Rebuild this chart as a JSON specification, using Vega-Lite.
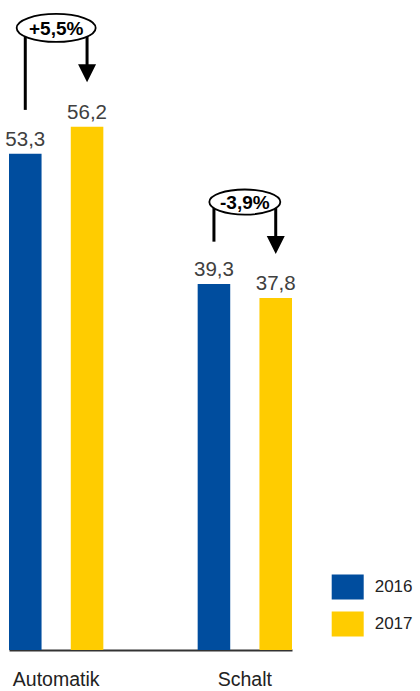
{
  "$schema": "https://vega.github.io/schema/vega-lite/v6.json",
  "width": 283,
  "height": 650,
  "autosize": {"type": "none"},
  "padding": {"left": 9, "top": 0, "right": 128, "bottom": 41},
  "background": "white",
  "config": {
    "view": {"stroke": null},
    "font": "Liberation Sans, Arial, sans-serif"
  },
  "datasets": {
    "bars": [
      {"category": "Automatik", "year": "2016", "value": 53.3, "label": "53,3"},
      {"category": "Automatik", "year": "2017", "value": 56.2, "label": "56,2"},
      {"category": "Schalt", "year": "2016", "value": 39.3, "label": "39,3"},
      {"category": "Schalt", "year": "2017", "value": 37.8, "label": "37,8"}
    ],
    "changes": [
      {"category": "Automatik", "change": "+5,5%", "fromYear": "2016", "toYear": "2017", "loop": 66.8, "fromEnd": 58.0, "arrowHead": 61.93},
      {"category": "Schalt", "change": "-3,9%", "fromYear": "2016", "toYear": "2017", "loop": 48.1, "fromEnd": 43.85, "arrowHead": 43.49}
    ]
  },
  "layer": [
    {
      "data": {"name": "bars"},
      "mark": {"type": "bar"},
      "encoding": {
        "x": {
          "field": "category", "type": "nominal",
          "scale": {"paddingInner": 0.5, "paddingOuter": 0},
          "axis": {
            "title": null, "labelAngle": 0, "ticks": false, "tickSize": 0,
            "domainColor": "#333333", "domainWidth": 2,
            "labelFontSize": 19.5, "labelColor": "#222222",
            "labelBaseline": "alphabetic", "labelPadding": 35
          }
        },
        "xOffset": {"field": "year", "type": "nominal", "scale": {"paddingInner": 0.473, "paddingOuter": 0}},
        "y": {"field": "value", "type": "quantitative", "scale": {"domain": [0, 69.8], "nice": false}, "axis": null},
        "color": {
          "field": "year", "type": "nominal",
          "scale": {"domain": ["2016", "2017"], "range": ["#004D9E", "#FFCC00"]},
          "legend": {
            "orient": "none", "legendX": 322.7, "legendY": 571, "title": null,
            "symbolType": "M-1,-0.78H1V0.78H-1Z", "symbolSize": 1024, "symbolStrokeWidth": 0,
            "labelFontSize": 17, "labelColor": "#222222", "labelOffset": 11,
            "rowPadding": 8, "padding": 0
          }
        }
      }
    },
    {
      "data": {"name": "bars"},
      "mark": {"type": "text", "baseline": "alphabetic", "dy": -8, "fontSize": 20.5, "color": "#404040"},
      "encoding": {
        "x": {"field": "category", "type": "nominal"},
        "xOffset": {"field": "year", "type": "nominal"},
        "y": {"field": "value", "type": "quantitative"},
        "text": {"field": "label"}
      }
    },
    {
      "data": {"name": "changes"},
      "mark": {"type": "rule", "strokeWidth": 3, "color": "black"},
      "encoding": {
        "x": {"field": "category", "type": "nominal"},
        "xOffset": {"field": "fromYear", "type": "nominal"},
        "y": {"field": "fromEnd", "type": "quantitative"},
        "y2": {"field": "loop"}
      }
    },
    {
      "data": {"name": "changes"},
      "mark": {"type": "rule", "strokeWidth": 3, "color": "black"},
      "encoding": {
        "x": {"field": "category", "type": "nominal"},
        "xOffset": {"field": "toYear", "type": "nominal"},
        "y": {"field": "loop", "type": "quantitative"},
        "y2": {"field": "arrowHead"}
      }
    },
    {
      "data": {"name": "changes"},
      "mark": {"type": "point", "shape": "M-1,-1L1,-1L0,1Z", "filled": true, "color": "black", "opacity": 1, "size": 324},
      "encoding": {
        "x": {"field": "category", "type": "nominal"},
        "xOffset": {"field": "toYear", "type": "nominal"},
        "y": {"field": "arrowHead", "type": "quantitative"}
      }
    },
    {
      "data": {"name": "changes"},
      "mark": {
        "type": "point",
        "shape": "M-1,0C-1,-0.1955 -0.5523,-0.354 0,-0.354C0.5523,-0.354 1,-0.1955 1,0C1,0.1955 0.5523,0.354 0,0.354C-0.5523,0.354 -1,0.1955 -1,0Z",
        "filled": true, "fill": "white", "stroke": "black", "strokeWidth": 1.8, "opacity": 1
      },
      "encoding": {
        "x": {"field": "category", "type": "nominal"},
        "y": {"field": "loop", "type": "quantitative"},
        "size": {"condition": {"test": "datum.category === 'Automatik'", "value": 6241}, "value": 5041}
      }
    },
    {
      "data": {"name": "changes"},
      "mark": {"type": "text", "fontWeight": "bold", "fontSize": 19, "baseline": "middle", "dy": 1, "color": "black"},
      "encoding": {
        "x": {"field": "category", "type": "nominal"},
        "y": {"field": "loop", "type": "quantitative"},
        "text": {"field": "change"}
      }
    }
  ]
}
